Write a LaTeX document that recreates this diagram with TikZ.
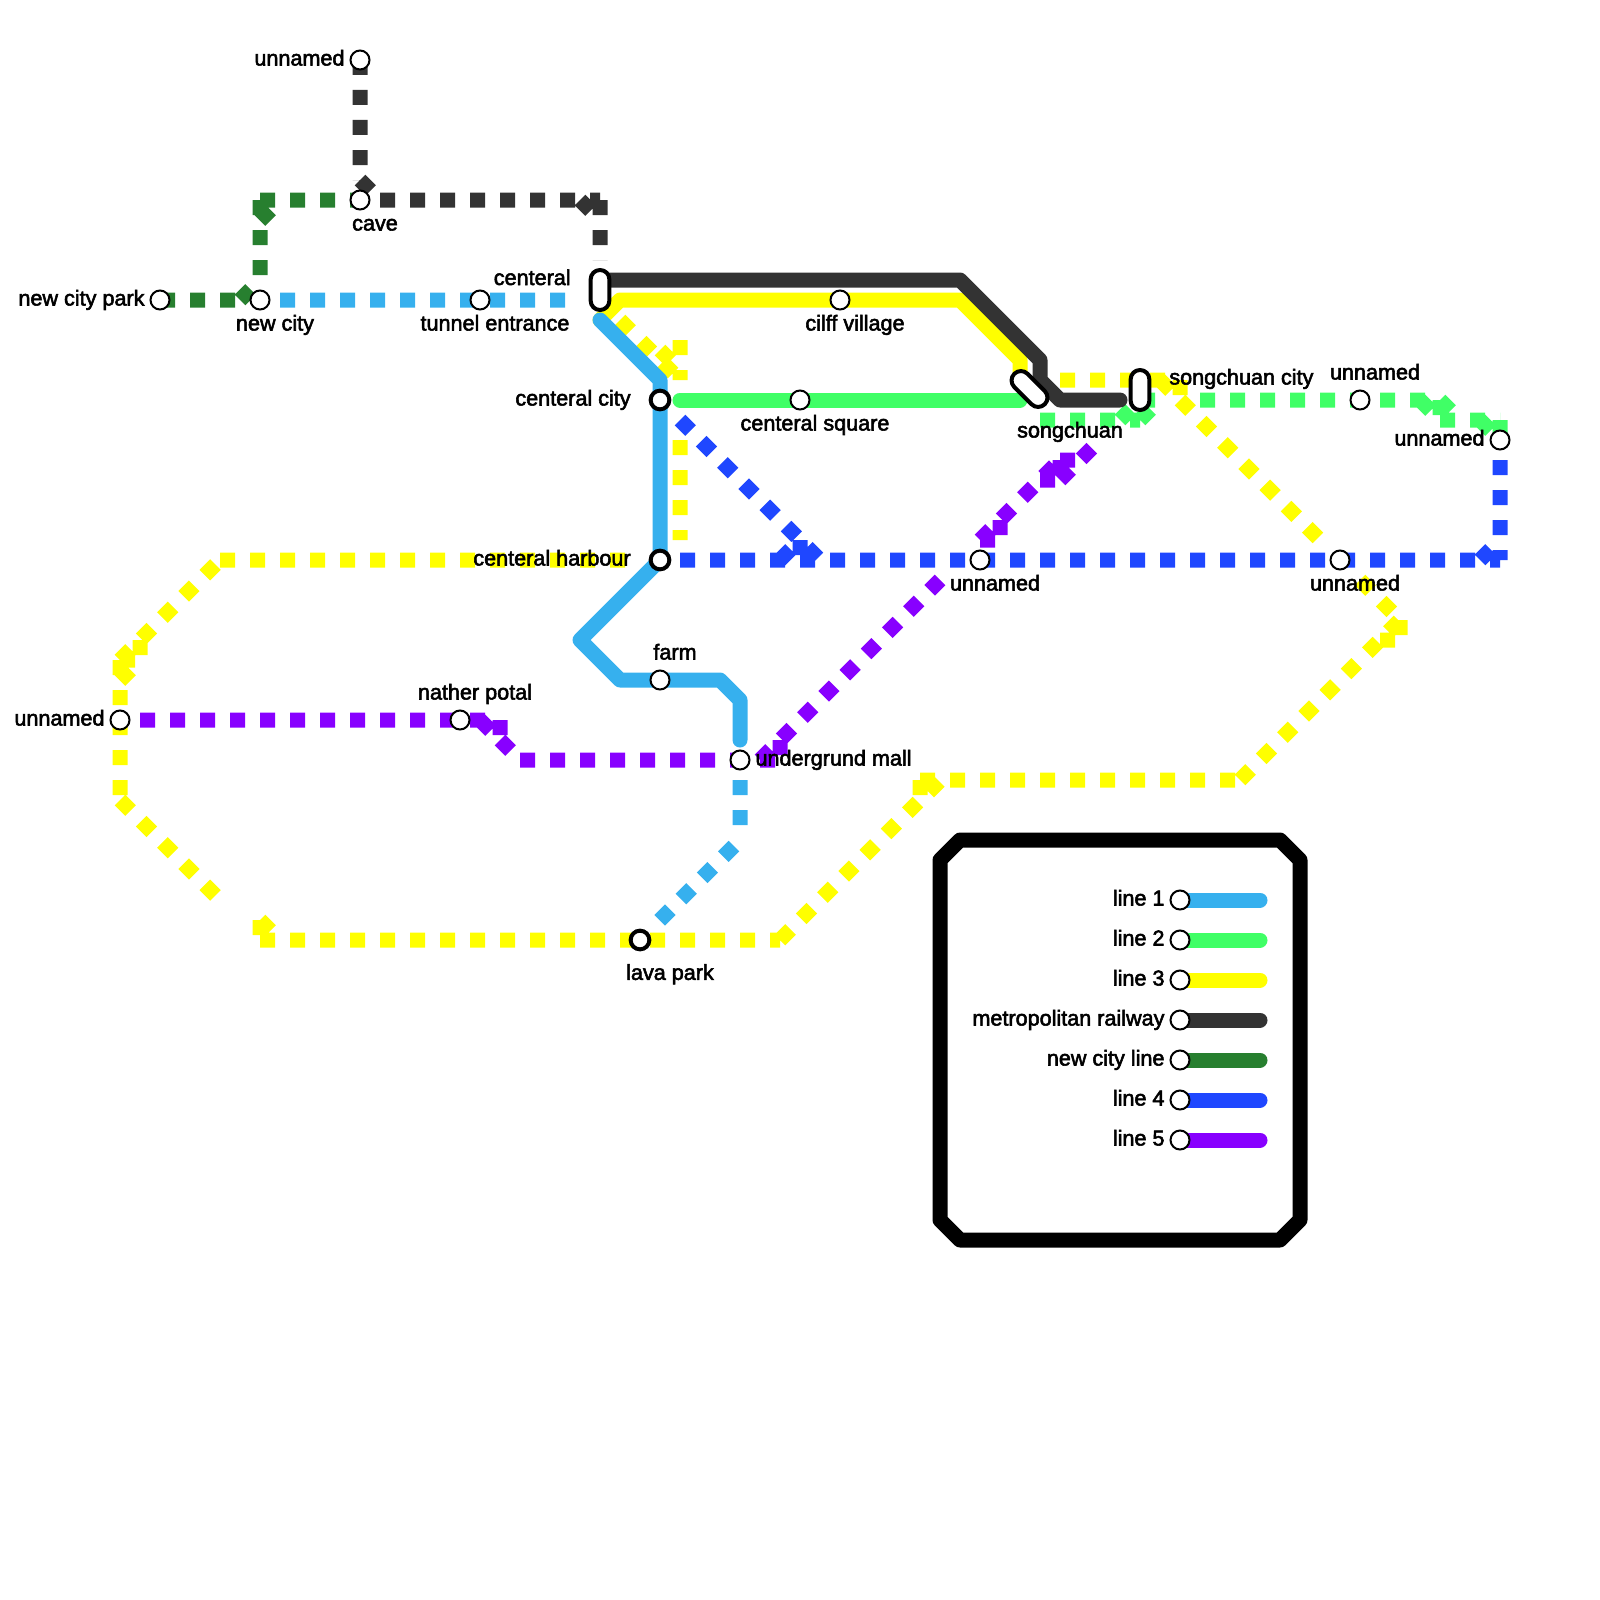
\documentclass[tikz,border=0pt]{standalone}
\usepackage{fontspec}
\setmainfont{Liberation Sans}[RawFeature={embolden=2.5}]
\usepackage{xcolor}
\usetikzlibrary{backgrounds,positioning}

\definecolor{lineone}{HTML}{36B0EE}
\definecolor{linetwo}{HTML}{40FF66}
\definecolor{linethree}{HTML}{FFFF00}
\definecolor{metro}{HTML}{333333}
\definecolor{newcityline}{HTML}{277F2F}
\definecolor{linefour}{HTML}{1F47FF}
\definecolor{linefive}{HTML}{8800FF}

\tikzset{
  stn/.style={circle, draw=black, fill=white, line width=2pt, minimum size=19pt, inner sep=0pt, outer sep=0pt},
  intstn/.style={stn, line width=4pt, minimum size=18.7pt},
  capsule/.style={rectangle, rounded corners=9.3pt, draw=black, fill=white, line width=4pt, minimum width=18.7pt, minimum height=40pt, inner sep=0pt, outer sep=0pt},
  lbl/.style={inner sep=0pt, outer sep=0pt, text height=15.5pt, text depth=4.5pt, font=\fontsize{21.6pt}{24pt}\selectfont},
  solidline/.style={line width=15pt, line cap=round, line join=round},
  dotline/.style={line width=15pt, dash pattern=on 15pt off 15pt}
}

\begin{document}
\begin{tikzpicture}[x=1pt, y=-1pt]
  \useasboundingbox (0,0) rectangle (1600,1600);

  % stations
  \node[stn]    (topend)    at (360,60)   {};
  \node[stn]    (cave)      at (360,200)  {};
  \node[stn]    (parknew)   at (160,300)  {};
  \node[stn]    (newcity)   at (260,300)  {};
  \node[stn]    (tunnel)    at (480,300)  {};
  \node[capsule] (centr)    at (600,290)  {};
  \node[stn]    (cliff)     at (840,300)  {};
  \node[intstn] (centcity)  at (660,400)  {};
  \node[stn]    (square)    at (800,400)  {};
  \node[capsule, rotate=45, minimum height=43pt] (song) at (1029.5,389) {};
  \node[capsule] (songcity) at (1140,390) {};
  \node[stn]    (eastone)   at (1360,400) {};
  \node[stn]    (easttwo)   at (1500,440) {};
  \node[intstn] (harbour)   at (660,560)  {};
  \node[stn]    (midend)    at (980,560)  {};
  \node[stn]    (eastlow)   at (1340,560) {};
  \node[stn]    (farm)      at (660,680)  {};
  \node[stn]    (westend)   at (120,720)  {};
  \node[stn]    (nather)    at (460,720)  {};
  \node[stn]    (mall)      at (740,760)  {};
  \node[intstn] (lava)      at (640,940)  {};

  % station names
  \node[lbl, left=6pt of topend]    (topendlbl)  {unnamed};
  \node[lbl, below=5.5pt of cave, xshift=15pt]   (cavelbl)  {cave};
  \node[lbl, left=6pt of parknew]   (parknewlbl) {new city park};
  \node[lbl, below=5.5pt of newcity, xshift=15pt] (newcitylbl) {new city};
  \node[lbl, below=5.5pt of tunnel, xshift=15pt]  (tunnellbl) {tunnel entrance};
  \node[lbl, left=20pt of centr, yshift=10.5pt]   (centrlbl) {centeral};
  \node[lbl, below=5.5pt of cliff, xshift=15pt]   (clifflbl) {cilff village};
  \node[lbl, left=20pt of centcity]  (centcitylbl) {centeral city};
  \node[lbl, below=5.5pt of square, xshift=15pt]  (squarelbl) {centeral square};
  \node[lbl, below=33pt of song.center, xshift=40.5pt] (songlbl) {songchuan};
  \node[lbl, right=20pt of songcity, yshift=11pt] (songcitylbl) {songchuan city};
  \node[lbl, above=6.5pt of eastone, xshift=15pt] (eastonelbl) {unnamed};
  \node[lbl, left=6pt of easttwo]   (easttwolbl) {unnamed};
  \node[lbl, left=20pt of harbour]  (harbourlbl) {centeral harbour};
  \node[lbl, below=5.5pt of midend, xshift=15pt]  (midendlbl) {unnamed};
  \node[lbl, below=5.5pt of eastlow, xshift=15pt] (eastlowlbl) {unnamed};
  \node[lbl, above=6.5pt of farm, xshift=15pt]    (farmlbl) {farm};
  \node[lbl, left=6pt of westend]   (westendlbl) {unnamed};
  \node[lbl, above=6.5pt of nather, xshift=15pt]  (natherlbl) {nather potal};
  \node[lbl, right=6pt of mall]     (malllbl) {undergrund mall};
  \node[lbl, below=15pt of lava, xshift=30pt]     (lavalbl) {lava park};

  % legend
  \node[stn] (legone)   at (1180,900)  {};
  \node[stn] (legtwo)   at (1180,940)  {};
  \node[stn] (legthree) at (1180,980)  {};
  \node[stn] (legmetro) at (1180,1020) {};
  \node[stn] (legnew)   at (1180,1060) {};
  \node[stn] (legfour)  at (1180,1100) {};
  \node[stn] (legfive)  at (1180,1140) {};
  \node[lbl, left=6pt of legone]   (legonelbl)   {line 1};
  \node[lbl, left=6pt of legtwo]   (legtwolbl)   {line 2};
  \node[lbl, left=6pt of legthree] (legthreelbl) {line 3};
  \node[lbl, left=6pt of legmetro] (legmetrolbl) {metropolitan railway};
  \node[lbl, left=6pt of legnew]   (legnewlbl)   {new city line};
  \node[lbl, left=6pt of legfour]  (legfourlbl)  {line 4};
  \node[lbl, left=6pt of legfive]  (legfivelbl)  {line 5};
  \coordinate (legoneend)   at (1260,900);
  \coordinate (legtwoend)   at (1260,940);
  \coordinate (legthreeend) at (1260,980);
  \coordinate (legmetroend) at (1260,1020);
  \coordinate (legnewend)   at (1260,1060);
  \coordinate (legfourend)  at (1260,1100);
  \coordinate (legfiveend)  at (1260,1140);

  % bends, line 3
  \coordinate (ya) at (600,320);
  \coordinate (yb) at (620,300);
  \coordinate (yc) at (960,300);
  \coordinate (yd) at (1020,360);
  \coordinate (ye) at (1020,380);
  \coordinate (yf) at (620,320);
  \coordinate (yg) at (680,380);
  \coordinate (yh) at (660,350);
  \coordinate (yi) at (680,370);
  \coordinate (yj) at (680,340);
  \coordinate (yk) at (680,440);
  \coordinate (yl) at (680,540);
  \coordinate (ym) at (220,560);
  \coordinate (yn) at (630,560);
  \coordinate (yo) at (120,660);
  \coordinate (yp) at (135,660);
  \coordinate (yq) at (140,640);
  \coordinate (yr) at (140,655);
  \coordinate (ys) at (120,800);
  \coordinate (yt) at (120,670);
  \coordinate (yu) at (140,690);
  \coordinate (yv) at (220,900);
  \coordinate (yw) at (260,920);
  \coordinate (yx) at (260,935);
  \coordinate (yy) at (280,940);
  \coordinate (yz) at (260,940);
  \coordinate (yaa) at (780,940);
  \coordinate (yab) at (920,800);
  \coordinate (yac) at (920,780);
  \coordinate (yad) at (920,795);
  \coordinate (yae) at (928.7,781.4);
  \coordinate (yaf) at (948.7,801.4);
  \coordinate (yag) at (1240,780);
  \coordinate (yah) at (1400,620);
  \coordinate (yai) at (1380,640);
  \coordinate (yaj) at (1395,640);
  \coordinate (yak) at (1400,635);
  \coordinate (yal) at (1360,580);
  \coordinate (yam) at (1180,400);
  \coordinate (yan) at (1320,540);
  \coordinate (yao) at (1060,380);
  \coordinate (yap) at (1165,380);
  \coordinate (yaq) at (1160,380);
  \coordinate (yar) at (1180,380);
  \coordinate (yas) at (1180,395);

  % bends, line 2
  \coordinate (ga) at (680,400);
  \coordinate (gb) at (1020,400);
  \coordinate (gc) at (1040,420);
  \coordinate (gd) at (1140,420);
  \coordinate (ge) at (1120,420);
  \coordinate (gf) at (1140,400);
  \coordinate (gg) at (1160,400);
  \coordinate (gh) at (1155,400);
  \coordinate (gi) at (1200,400);
  \coordinate (gj) at (1425,400);
  \coordinate (gk) at (1420,400);
  \coordinate (gl) at (1440,420);
  \coordinate (gm) at (1440,400);
  \coordinate (gn) at (1440,415);
  \coordinate (go) at (1460,420);
  \coordinate (gp) at (1500,420);
  \coordinate (gq) at (1480,420);

  % bends, new city line
  \coordinate (na) at (240,300);
  \coordinate (nb) at (260,280);
  \coordinate (nc) at (260,200);
  \coordinate (nd) at (260,210);
  \coordinate (ne) at (280,230);

  % bends, metropolitan railway
  \coordinate (ma) at (360,180);
  \coordinate (mb) at (380,200);
  \coordinate (mc) at (600,200);
  \coordinate (md) at (580,200);
  \coordinate (me) at (600,220);
  \coordinate (mf) at (600,260);
  \coordinate (mg) at (600,280);
  \coordinate (mh) at (960,280);
  \coordinate (mi) at (1040,360);
  \coordinate (mj) at (1040,380);
  \coordinate (mk) at (1060,400);
  \coordinate (ml) at (1120,400);

  % bends, line 1
  \coordinate (ba) at (280,300);
  \coordinate (bb) at (570,300);
  \coordinate (bc) at (660,380);
  \coordinate (bd) at (580,640);
  \coordinate (be) at (620,680);
  \coordinate (bf) at (720,680);
  \coordinate (bg) at (740,700);
  \coordinate (bh) at (740,740);
  \coordinate (bi) at (740,780);
  \coordinate (bj) at (740,830);
  \coordinate (bk) at (740,840);
  \coordinate (bl) at (659.7,920.3);

  % bends, line 4
  \coordinate (fa) at (680,560);
  \coordinate (fb) at (1500,560);
  \coordinate (fc) at (1500,460);
  \coordinate (fd) at (1480,560);
  \coordinate (fe) at (1500,540);
  \coordinate (ff) at (680,420);
  \coordinate (fg) at (820,560);
  \coordinate (fh) at (780,560);
  \coordinate (fi) at (800,540);
  \coordinate (fj) at (800,555);

  % bends, line 5
  \coordinate (pa) at (140,720);
  \coordinate (pb) at (490,720);
  \coordinate (pc) at (480,720);
  \coordinate (pd) at (500,740);
  \coordinate (pe) at (500,720);
  \coordinate (pf) at (500,735);
  \coordinate (pg) at (520,760);
  \coordinate (ph) at (775,760);
  \coordinate (pi) at (760,760);
  \coordinate (pj) at (940,580);
  \coordinate (pk) at (780,740);
  \coordinate (pl) at (780,755);
  \coordinate (pm) at (980,540);
  \coordinate (pn) at (1060,460);
  \coordinate (po) at (995,540);
  \coordinate (pp) at (1000,520);
  \coordinate (pq) at (1000,535);
  \coordinate (pr) at (1040,480);
  \coordinate (ps) at (1055,480);
  \coordinate (pt) at (1060,475);
  \coordinate (pu) at (1075,460);
  \coordinate (pv) at (1060,480);
  \coordinate (pw) at (1100,440);

  % legend frame
  \coordinate (fra) at (960,840);
  \coordinate (frb) at (1280,840);
  \coordinate (frc) at (1300,860);
  \coordinate (frd) at (1300,1220);
  \coordinate (fre) at (1280,1240);
  \coordinate (frf) at (960,1240);
  \coordinate (frg) at (940,1220);
  \coordinate (frh) at (940,860);

  \begin{scope}[on background layer]
    \draw[line width=15pt, line join=round] (fra) -- (frb) -- (frc) -- (frd) -- (fre) -- (frf) -- (frg) -- (frh) -- cycle;

    % line 3
    \draw[solidline, linethree] (ya) -- (yb) -- (yc) -- (yd) -- (ye);
    \draw[solidline, linethree] (legthree.center) -- (legthreeend);
    \draw[dotline, linethree]
      (yf) -- (yg) (yh) -- (yi) (yj) -- (yg) (yk) -- (yl) (ym) -- (yn)
      (yo) -- (ym) (yo) -- (yp) (yq) -- (yr) (yo) -- (ys) (yt) -- (yu)
      (ys) -- (yv) (yw) -- (yx) (yw) -- (yy) (yz) -- (yaa) (yaa) -- (yab)
      (yac) -- (yad) (yae) -- (yaf) (yac) -- (yag) (yag) -- (yah)
      (yai) -- (yaj) (yah) -- (yak) (yal) -- (yah) (yam) -- (yan)
      (yao) -- (yap) (yaq) -- (yam) (yar) -- (yas);

    % line 2
    \draw[solidline, linetwo] (ga) -- (gb);
    \draw[solidline, linetwo] (legtwo.center) -- (legtwoend);
    \draw[dotline, linetwo]
      (gc) -- (gd) (ge) -- (gf) (gd) -- (gg) (gf) -- (gh) (gi) -- (gj)
      (gk) -- (gl) (gm) -- (gn) (gm) -- (go) (gl) -- (gp) (gq) -- (easttwo.center)
      (gp) -- (easttwo.center);

    % new city line
    \draw[solidline, newcityline] (legnew.center) -- (legnewend);
    \draw[dotline, newcityline]
      (parknew.center) -- (na) (na) -- (nb) (nc) -- (nb) (nd) -- (ne) (nc) -- (cave.center);

    % line 5
    \draw[solidline, linefive] (legfive.center) -- (legfiveend);
    \draw[dotline, linefive]
      (pa) -- (pb) (pc) -- (pd) (pe) -- (pf) (pd) -- (pg) (pg) -- (ph) (pi) -- (pj)
      (pk) -- (pl) (pm) -- (pn) (pm) -- (po) (pp) -- (pq) (pr) -- (ps) (pn) -- (pt)
      (pn) -- (pu) (pv) -- (pw);

    % line 4
    \draw[solidline, linefour] (legfour.center) -- (legfourend);
    \draw[dotline, linefour]
      (fa) -- (fb) (fc) -- (fb) (fd) -- (fe) (ff) -- (fg) (fh) -- (fi) (fi) -- (fj);

    % line 1
    \draw[solidline, lineone] (ya) -- (bc) -- (harbour.center) -- (bd) -- (be) -- (bf) -- (bg) -- (bh);
    \draw[solidline, lineone] (legone.center) -- (legoneend);
    \draw[dotline, lineone] (ba) -- (bb) (bi) -- (bj) (bl) -- (bk);

    % metropolitan railway
    \draw[solidline, metro] (mg) -- (mh) -- (mi) -- (mj) -- (mk) -- (ml);
    \draw[solidline, metro] (legmetro.center) -- (legmetroend);
    \draw[dotline, metro]
      (topend.center) -- (ma) (ma) -- (mb) (mb) -- (mc) (md) -- (me) (mc) -- (mf);
  \end{scope}

\end{tikzpicture}
\end{document}
